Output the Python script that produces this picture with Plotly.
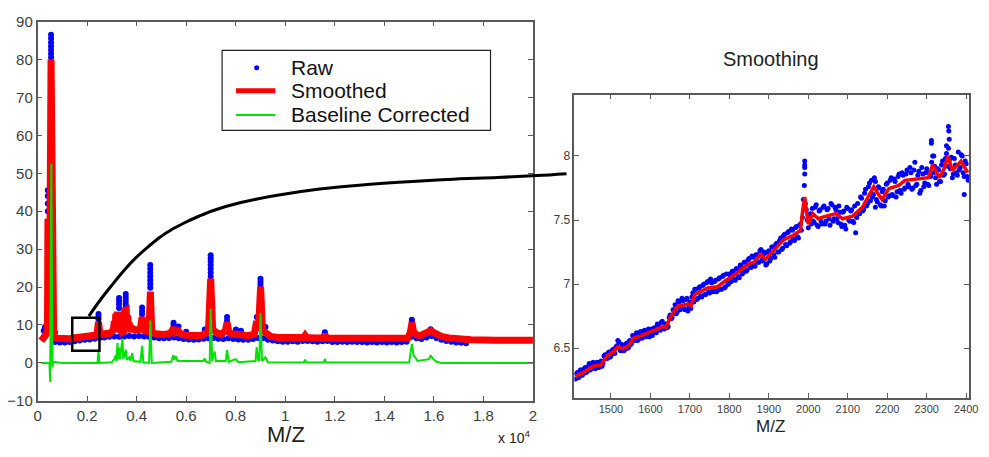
import plotly.graph_objects as go

W, H = 989, 457

# ---------------- left panel: full spectrum ----------------
smooth_mz = [150, 200, 280, 350, 400, 420, 440, 480, 545, 610, 650, 700, 850, 1000, 1150,
             1300, 1450, 1600, 1750, 1900, 2050, 2200, 2350, 2400, 2460, 2520, 2600, 2750, 2900,
             3000, 3060, 3100, 3130, 3160, 3190, 3220, 3250, 3280, 3310, 3340, 3370, 3400, 3430,
             3460, 3490, 3520, 3550, 3580, 3610, 3640, 3670, 3700, 3750, 3800, 3850, 3950, 4050,
             4150, 4223, 4290, 4400, 4500, 4555, 4610, 4750, 4900, 5100, 5300, 5420, 5490, 5560,
             5690, 5800, 6000, 6300, 6600, 6750, 6900, 6990, 7070, 7200, 7400, 7580, 7650, 7720,
             7850, 8000, 8200, 8500, 8750, 8845, 8920, 9004, 9080, 9200, 9400, 9700, 10000, 10500,
             10750, 10800, 10850, 11200, 11550, 11600, 11650, 12000, 12500, 13500, 14500, 14950,
             15050, 15113, 15180, 15300, 15450, 15600, 15750, 15870, 16000, 16150, 16300, 16600,
             17000, 17500, 18500, 20000]
smooth_int = [5.8, 6.3, 7.0, 7.5, 8.0, 38, 8.5, 10, 80, 9, 7.5, 6.5, 6.4, 6.3, 6.35,
              6.4, 6.55, 6.7, 6.85, 7.0, 7.1, 7.2, 7.3, 7.4, 10.8, 7.6, 7.6, 7.6, 7.8,
              8.2, 8.8, 11.0, 8.4, 13.0, 8.1, 13.5, 8.4, 13.2, 8.1, 13.0, 8.4, 13.5, 8.2,
              13.0, 8.4, 13.8, 8.8, 14.0, 8.4, 12.5, 8.8, 10.5, 9.0, 8.4, 9.0, 8.6, 8.8,
              9.0, 12.1, 8.6, 8.3, 8.2, 18.8, 8.1, 7.7, 7.5, 7.5, 7.7, 8.3, 9.3, 8.0,
              8.4, 7.5, 7.3, 7.1, 7.2, 7.7, 8.4, 22.2, 8.8, 8.1, 7.5, 8.4, 10.6, 8.2,
              7.5, 7.6, 7.4, 7.2, 7.6, 11.0, 8.5, 20.1, 8.6, 8.0, 7.0, 6.7, 6.6, 6.6,
              6.7, 7.2, 6.7, 6.6, 6.6, 7.6, 6.6, 6.5, 6.45, 6.4, 6.4, 6.6,
              8.0, 10.6, 8.2, 7.4, 7.2, 7.6, 8.2, 8.5, 8.0, 7.4, 7.0, 6.6,
              6.3, 6.1, 6.0, 5.95]

base_mz = [150, 480, 510, 555, 600, 640, 1000, 2000, 2420, 2460, 2500, 3000, 3100, 3150, 3180,
           3227, 3260, 3293, 3330, 3426, 3460, 3559, 3600, 3700, 3750, 3825, 3870, 4150, 4223,
           4270, 4500, 4555, 4610, 5400, 5480, 5520, 5580, 5650, 6700, 6745, 6800, 6950, 6990,
           7050, 7150, 7200, 7600, 7650, 7720, 8000, 8100, 8800, 8845, 8900, 8950, 9004, 9060,
           9200, 9300, 10750, 10800, 10850, 11550, 11600, 11650, 15000, 15080, 15113, 15180,
           15250, 15350, 15800, 15870, 15950, 16100, 16300, 20000]
base_int = [0, 0, -5, 52.5, -1, 0.3, 0, 0.1, 0, 3.0, 0, 0.2, 1.0, 2.0, 0.5,
            5.3, 1.0, 3.9, 1.0, 6.4, 1.0, 3.5, 0.8, 1.5, 0.6, 2.6, 0.5, 0.3, 4.5,
            0.2, 0, 11.2, 0, 0.3, 2.1, 0.8, 1.7, 0.5, 0.5, 1.2, 0.3, 0, 14.3,
            0.5, 3.0, 0.5, 0.5, 3.4, 0.3, 1.0, 0.2, 0.5, 4.2, 0.8, 0.5, 13.1, 0.5,
            1.5, 0.2, 0.1, 0.85, 0.1, 0.1, 1.0, 0.1, 0.1, 3.0, 5.0, 2.0,
            1.5, 0.5, 1.0, 2.0, 1.2, 0.3, 0, 0]

raw_base_mz = list(range(700, 17301, 200))
raw_base_int = [5.5, 5.4, 5.4, 5.5, 5.7, 5.9, 6.1, 6.2, 6.4, 6.6,
                6.7, 6.9, 7.0, 6.9, 7.0, 7.1, 7.0, 7.1, 7.0, 6.9,
                6.7, 6.5, 6.5, 6.6, 6.7, 6.5, 6.3, 6.2, 6.1, 6.2,
                6.4, 6.5, 6.6, 6.4, 6.3, 6.5, 6.3, 6.2, 6.1, 6.1,
                6.3, 6.6, 6.5, 6.1, 5.9, 5.7, 5.6, 5.6, 5.7, 5.6,
                5.8, 5.8, 5.7, 5.6, 5.7, 5.8, 5.5, 5.5, 5.6, 5.5,
                5.6, 5.5, 5.5, 5.4, 5.5, 5.4, 5.5, 5.4, 5.5, 5.4,
                5.5, 5.6, 6.9, 6.5, 6.3, 6.7, 7.1, 6.6, 6.1, 5.8,
                5.6, 5.4, 5.3, 5.2]

raw_peak_mz = [250, 300, 620, 650, 700,
               415, 415, 415, 415,
               545, 545, 545, 545, 545, 545, 545,
               2460, 2460, 2460,
               3290, 3290, 3290, 3290,
               3560, 3560, 3560, 3560, 3560,
               4220, 4220, 4220,
               4550, 4550, 4550, 4550, 4550, 4550, 4550,
               5490, 5490, 5690, 6000, 6750,
               6990, 6990, 6990, 6990, 6990, 6990, 6990,
               7650, 7650, 8010, 8210, 8850,
               9000, 9000, 9000, 9200, 11600,
               15110, 15110, 15870]
raw_peak_int = [8.5, 9.5, 11.0, 9.5, 8.0,
                40, 42, 44, 45.5,
                80.5, 81.5, 82.5, 83.5, 84.5, 85.5, 86.5,
                11.5, 12.2, 12.9,
                14.5, 15.5, 16.3, 17.1,
                14.8, 15.6, 16.4, 17.3, 18.2,
                12.8, 13.7, 14.6,
                19.8, 20.8, 21.8, 22.8, 23.8, 24.8, 25.8,
                10.0, 10.6, 9.6, 8.2, 8.8,
                22.8, 23.8, 24.8, 25.8, 26.8, 27.6, 28.4,
                11.2, 12.1, 8.8, 8.5, 12.1,
                20.6, 21.4, 22.2, 9.5, 8.1,
                11.0, 11.4, 8.9]

x_ticks_mz = [0, 2000, 4000, 6000, 8000, 10000, 12000, 14000, 16000, 18000, 20000]
x_tick_text = ["0", "0.2", "0.4", "0.6", "0.8", "1", "1.2", "1.4", "1.6", "1.8", "2"]

# zoom window marked on the left panel (M/Z range, intensity range)
box_mz = [1400, 2500]
box_int = [3.2, 11.9]

# ---------------- right panel: zoomed smoothing ----------------
zoom_smooth_mz = [1410, 1430, 1455, 1475, 1490, 1505, 1517, 1530, 1545, 1558, 1575, 1595,
                  1615, 1633, 1640, 1650, 1670, 1685, 1696, 1703, 1712, 1745, 1770, 1792,
                  1817, 1837, 1850, 1862, 1879, 1892, 1908, 1937, 1962, 1980, 1986, 1991,
                  1996, 2000, 2012, 2025, 2045, 2070, 2087, 2112, 2137, 2155, 2166, 2178,
                  2187, 2204, 2229, 2245, 2279, 2304, 2315, 2332, 2344, 2354, 2365, 2387, 2404]
zoom_smooth_int = [6.28, 6.31, 6.36, 6.37, 6.44, 6.47, 6.51, 6.495, 6.52, 6.58, 6.595, 6.62,
                   6.645, 6.67, 6.665, 6.74, 6.83, 6.84, 6.845, 6.83, 6.92, 6.97, 6.98, 7.03,
                   7.08, 7.13, 7.16, 7.17, 7.23, 7.195, 7.245, 7.345, 7.38, 7.42, 7.58, 7.68,
                   7.55, 7.47, 7.55, 7.51, 7.53, 7.55, 7.51, 7.53, 7.60, 7.70, 7.76, 7.70,
                   7.66, 7.745, 7.77, 7.81, 7.82, 7.83, 7.93, 7.83, 7.90, 8.00, 7.885, 7.96, 7.87]

zoom_raw_mz_a = list(range(1410, 2406, 5))
zoom_raw_int_a = [
    6.26, 6.31, 6.28, 6.33, 6.30, 6.35, 6.32, 6.38, 6.34, 6.39,
    6.34, 6.39, 6.35, 6.40, 6.38, 6.45, 6.42, 6.47, 6.44, 6.49,
    6.46, 6.52, 6.55, 6.48, 6.52, 6.49, 6.54, 6.51, 6.53, 6.60,
    6.56, 6.62, 6.57, 6.63, 6.58, 6.64, 6.59, 6.65, 6.61, 6.60,
    6.66, 6.62, 6.68, 6.64, 6.71, 6.65, 6.69, 6.67, 6.76, 6.74,
    6.80, 6.77, 6.87, 6.80, 6.89, 6.81, 6.88, 6.79, 6.86, 6.90,
    6.86, 6.96, 6.89, 6.98, 6.90, 7.00, 6.92, 7.02, 6.93, 7.01,
    6.94, 7.03, 6.95, 7.05, 6.96, 7.07, 6.98, 7.02, 7.08, 7.02,
    7.10, 7.03, 7.12, 7.05, 7.14, 7.09, 7.17, 7.11, 7.20, 7.13,
    7.21, 7.14, 7.23, 7.17, 7.27, 7.18, 7.24, 7.16, 7.26, 7.20,
    7.29, 7.21, 7.32, 7.25, 7.36, 7.28, 7.39, 7.30, 7.41, 7.33,
    7.42, 7.34, 7.45, 7.36, 7.47, 7.52, 7.77, 7.58, 7.44, 7.55,
    7.59, 7.48, 7.62, 7.45, 7.58, 7.47, 7.61, 7.49, 7.59, 7.46,
    7.62, 7.51, 7.58, 7.48, 7.56, 7.45, 7.57, 7.43, 7.59, 7.49,
    7.58, 7.48, 7.40, 7.63, 7.55, 7.67, 7.58, 7.74, 7.63, 7.79,
    7.81, 7.70, 7.80, 7.64, 7.75, 7.61, 7.74, 7.65, 7.79, 7.69,
    7.83, 7.69, 7.80, 7.72, 7.86, 7.71, 7.85, 7.75, 7.89, 7.76,
    7.87, 7.75, 7.95, 7.78, 7.88, 7.73, 7.86, 7.79, 7.90, 7.77,
    7.84, 8.00, 7.92, 7.78, 7.89, 7.80, 7.96, 7.86, 8.02, 8.06,
    7.90, 7.83, 7.98, 7.87, 8.03, 7.91, 8.00, 7.84, 7.94, 7.81]

zoom_raw_mz_b = [1412.5 + 5 * i for i in range(199)]
zoom_raw_int_b = [
    6.30, 6.27, 6.33, 6.29, 6.34, 6.31, 6.36, 6.33, 6.37, 6.35,
    6.38, 6.35, 6.39, 6.36, 6.44, 6.42, 6.46, 6.43, 6.48, 6.46,
    6.51, 6.56, 6.49, 6.53, 6.48, 6.53, 6.50, 6.56, 6.54, 6.59,
    6.60, 6.56, 6.61, 6.58, 6.63, 6.60, 6.64, 6.59, 6.65, 6.62,
    6.63, 6.69, 6.65, 6.70, 6.66, 6.69, 6.66, 6.74, 6.73, 6.80,
    6.84, 6.78, 6.86, 6.81, 6.87, 6.80, 6.89, 6.82, 6.81, 6.93,
    6.96, 6.88, 6.97, 6.91, 6.99, 6.92, 7.01, 6.94, 7.04, 6.95,
    7.02, 6.94, 7.04, 6.96, 7.06, 6.97, 7.08, 7.00, 7.07, 7.10,
    7.04, 7.12, 7.06, 7.15, 7.08, 7.17, 7.10, 7.19, 7.14, 7.22,
    7.16, 7.23, 7.17, 7.26, 7.19, 7.25, 7.15, 7.25, 7.18, 7.29,
    7.23, 7.31, 7.25, 7.34, 7.27, 7.38, 7.31, 7.40, 7.32, 7.43,
    7.35, 7.44, 7.37, 7.46, 7.42, 7.66, 7.63, 7.50, 7.52, 7.47,
    7.49, 7.60, 7.46, 7.57, 7.49, 7.60, 7.47, 7.58, 7.51, 7.63,
    7.49, 7.60, 7.51, 7.61, 7.47, 7.56, 7.46, 7.60, 7.50, 7.57,
    7.49, 7.61, 7.52, 7.56, 7.68, 7.57, 7.71, 7.61, 7.76, 7.65,
    7.68, 7.83, 7.66, 7.76, 7.62, 7.72, 7.61, 7.78, 7.68, 7.81,
    7.70, 7.82, 7.68, 7.84, 7.73, 7.87, 7.74, 7.86, 7.78, 7.91,
    7.74, 7.89, 7.77, 7.85, 7.71, 7.91, 7.76, 7.87, 7.78, 7.87,
    7.95, 7.87, 7.83, 7.90, 7.80, 7.93, 7.85, 7.98, 7.92, 7.97,
    7.99, 7.86, 7.93, 7.85, 7.89, 8.01, 7.87, 7.96, 7.84]

zoom_raw_mz_c = [1991, 1991, 1991, 1991, 2312, 2312, 2318, 2355, 2356, 2357, 2350, 2395, 2170]
zoom_raw_int_c = [7.96, 7.93, 7.91, 7.86, 8.12, 8.10, 8.00, 8.23, 8.195, 8.13, 8.08, 7.70, 7.60]

zoom_y_ticks = [6.5, 7, 7.5, 8]

# connector from the zoom box to the right panel (page pixel coordinates)
link_px_x = [86, 97, 110, 122, 134, 146, 158, 170, 183, 198, 213, 240, 280, 320,
             360, 400, 450, 500, 540, 570]
link_px_y = [319, 303, 286, 271, 258, 247, 237, 229, 222, 215, 209, 201, 193, 187,
             183, 180, 177, 175, 173, 171]

# legend (drawn by hand, page pixel coordinates)
legend_labels = ["Raw", "Smoothed", "Baseline Corrected"]
legend_rows_px = [61, 85, 110]

BLUE = "rgb(0,0,255)"
RED = "rgb(255,0,0)"
GREEN = "rgb(0,225,0)"
AX = "#5a5a5a"
FONT = "Liberation Sans"

fig = go.Figure()

# left panel
fig.add_trace(go.Scatter(x=raw_peak_mz + raw_base_mz, y=raw_peak_int + raw_base_int,
                         mode="markers", name="Raw",
                         marker=dict(color=BLUE, size=6), xaxis="x", yaxis="y"))
fig.add_trace(go.Scatter(x=smooth_mz, y=smooth_int, mode="lines", name="Smoothed",
                         line=dict(color=RED, width=7), xaxis="x", yaxis="y"))
fig.add_trace(go.Scatter(x=base_mz, y=base_int, mode="lines", name="Baseline Corrected",
                         line=dict(color=GREEN, width=2), xaxis="x", yaxis="y"))

# right panel
fig.add_trace(go.Scatter(x=zoom_raw_mz_a + zoom_raw_mz_b + zoom_raw_mz_c,
                         y=zoom_raw_int_a + zoom_raw_int_b + zoom_raw_int_c,
                         mode="markers", showlegend=False,
                         marker=dict(color=BLUE, size=5), xaxis="x2", yaxis="y2"))
fig.add_trace(go.Scatter(x=zoom_smooth_mz, y=zoom_smooth_int, mode="lines", showlegend=False,
                         line=dict(color=RED, width=3.5), xaxis="x2", yaxis="y2"))

# connector overlay
fig.add_trace(go.Scatter(x=link_px_x, y=link_px_y, mode="lines", showlegend=False,
                         line=dict(color="black", width=3, shape="spline", smoothing=1.0),
                         xaxis="x3", yaxis="y3", hoverinfo="skip"))

# legend samples
fig.add_trace(go.Scatter(x=[256], y=[legend_rows_px[0]], mode="markers", showlegend=False,
                         marker=dict(color=BLUE, size=5), xaxis="x3", yaxis="y3",
                         hoverinfo="skip"))
fig.add_trace(go.Scatter(x=[235, 275], y=[legend_rows_px[1]] * 2, mode="lines",
                         showlegend=False, line=dict(color=RED, width=5),
                         xaxis="x3", yaxis="y3", hoverinfo="skip"))
fig.add_trace(go.Scatter(x=[235, 275], y=[legend_rows_px[2]] * 2, mode="lines",
                         showlegend=False, line=dict(color=GREEN, width=2),
                         xaxis="x3", yaxis="y3", hoverinfo="skip"))

axis_common = dict(showgrid=False, zeroline=False, showline=True, linecolor=AX, linewidth=1.5,
                   ticks="inside", ticklen=5, tickcolor=AX, tickwidth=1.2, mirror="ticks")

fig.update_layout(
    width=W, height=H, margin=dict(l=0, r=0, t=0, b=0),
    paper_bgcolor="white", plot_bgcolor="rgba(0,0,0,0)",
    font=dict(family=FONT, color="#333"),
    showlegend=False,
    xaxis=dict(domain=[34 / W, 536 / W], range=[0, 20000], tickvals=x_ticks_mz,
               ticktext=x_tick_text, tickfont=dict(size=15, color="#404040"),
               anchor="y", **axis_common),
    yaxis=dict(domain=[1 - 407 / H, 1 - 13 / H], range=[-10, 90], dtick=10, tick0=0,
               tickfont=dict(size=15, color="#404040"), anchor="x", **axis_common),
    xaxis2=dict(domain=[578 / W, 978 / W], range=[1407.5, 2407.5], dtick=100, tick0=1500,
                tickfont=dict(size=11, color="#404040"), anchor="y2", **axis_common),
    yaxis2=dict(domain=[1 - 404 / H, 1 - 89 / H], range=[6.112, 8.478], tickvals=zoom_y_ticks,
                tickfont=dict(size=12, color="#404040"), anchor="x2", **axis_common),
    xaxis3=dict(domain=[0, 1], range=[0, W], visible=False, anchor="y3"),
    yaxis3=dict(domain=[0, 1], range=[H, 0], visible=False, anchor="x3"),
)

fig.add_shape(type="rect", xref="x", yref="y", x0=box_mz[0], x1=box_mz[1],
              y0=box_int[0], y1=box_int[1], line=dict(color="black", width=2.5))
# legend frame
fig.add_shape(type="rect", xref="paper", yref="paper", x0=221 / W, x1=493 / W,
              y0=1 - 126 / H, y1=1 - 43 / H, line=dict(color="#222", width=1.2))

for label, row in zip(legend_labels, legend_rows_px):
    fig.add_annotation(text=label, x=289 / W, y=1 - row / H, xref="paper", yref="paper",
                       showarrow=False, xanchor="left", yanchor="middle",
                       font=dict(size=21, color="#111", family=FONT))

ann = [
    dict(text="M/Z", x=286 / W, y=1 - 442 / H, size=22),
    dict(text="M/Z", x=777 / W, y=1 - 434 / H, size=17),
    dict(text="Smoothing", x=777 / W, y=1 - 52 / H, size=20),
    dict(text="x 10<sup>4</sup>", x=517 / W, y=1 - 445 / H, size=14),
]
for a in ann:
    fig.add_annotation(text=a["text"], x=a["x"], y=a["y"], xref="paper", yref="paper",
                       showarrow=False, xanchor="center", yanchor="middle",
                       font=dict(size=a["size"], color="#222", family=FONT))

fig.write_html("out.html")
